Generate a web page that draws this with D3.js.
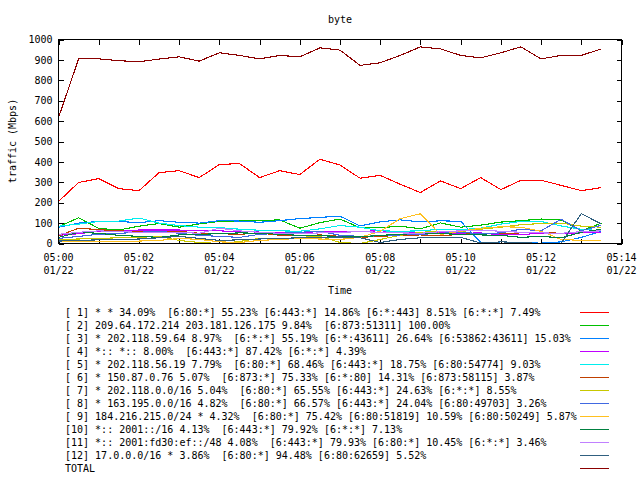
<!DOCTYPE html>
<html><head><meta charset="utf-8">
<script src="https://cdn.jsdelivr.net/npm/d3@7/dist/d3.min.js"></script>
<style>
body{margin:0;background:#fff}
svg text{font-family:"DejaVu Sans Mono","Liberation Mono",monospace;font-size:10px;fill:#000}
</style></head><body>
<svg id="c" width="640" height="480"></svg>
<script>
// ---- data ----
const times = ["05:00:00","05:00:30","05:01:00","05:01:30","05:02:00","05:02:30","05:03:00","05:03:30",
  "05:04:00","05:04:30","05:05:00","05:05:30","05:06:00","05:06:30","05:07:00","05:07:30",
  "05:08:00","05:08:30","05:09:00","05:09:30","05:10:00","05:10:30","05:11:00","05:11:30",
  "05:12:00","05:12:30","05:13:00","05:13:30"];

const s1  = [206,299,318,269,259,347,357,323,387,392,323,357,338,413,385,320,334,290,250,307,269,323,264,310,310,285,259,274];
const s2  = [82,126,74,66,85,98,80,96,108,110,112,116,75,102,120,77,77,85,72,101,80,90,105,112,120,115,62,100];
const s3  = [80,100,108,108,102,112,104,100,112,110,104,112,122,128,134,86,106,116,106,111,109,5,2,3,2,8,30,60];
const s4  = [40,48,60,64,66,66,66,64,62,58,56,52,54,58,60,60,62,58,54,52,50,52,42,44,50,48,52,56];
const s5  = [85,95,108,110,125,100,88,80,78,70,65,62,60,72,88,80,62,60,62,70,68,75,95,108,108,86,70,62];
const s6  = [38,75,68,62,58,55,60,50,48,45,52,40,38,42,35,30,35,40,42,38,45,50,48,52,55,50,58,62];
const s7  = [20,22,25,28,30,35,15,5,0,10,25,20,30,35,5,0,20,40,55,60,58,70,80,92,98,100,85,80];
const s8  = [25,35,45,50,55,60,50,40,35,30,45,50,55,60,40,35,38,42,45,50,55,48,52,70,62,119,62,90];
const s9  = [10,12,12,12,12,15,25,20,8,5,15,20,25,22,20,30,60,122,146,44,60,75,82,80,60,20,15,15];
const s10 = [30,55,50,40,35,30,42,45,48,52,50,45,40,38,35,32,40,45,50,48,45,42,40,30,35,28,55,70];
const s11 = [45,55,62,58,55,52,55,50,75,62,55,50,48,52,55,58,55,52,50,58,62,65,60,55,52,50,58,62];
const s12 = [12,15,18,20,22,28,35,25,15,18,22,25,28,30,32,28,5,20,28,30,30,2,8,5,0,2,147,95];
const total = [617,905,905,896,891,904,915,894,935,922,905,922,915,959,948,873,886,922,964,954,922,910,935,964,905,922,922,954];

const seriesValues = [s1,s2,s3,s4,s5,s6,s7,s8,s9,s10,s11,s12,total];
const seriesLabels = [
  "[ 1] * * 34.09%  [6:80:*] 55.23% [6:443:*] 14.86% [6:*:443] 8.51% [6:*:*] 7.49%",
  "[ 2] 209.64.172.214 203.181.126.175 9.84%  [6:873:51311] 100.00%",
  "[ 3] * 202.118.59.64 8.97%  [6:*:*] 55.19% [6:*:43611] 26.64% [6:53862:43611] 15.03%",
  "[ 4] *:: *:: 8.00%  [6:443:*] 87.42% [6:*:*] 4.39%",
  "[ 5] * 202.118.56.19 7.79%  [6:80:*] 68.46% [6:443:*] 18.75% [6:80:54774] 9.03%",
  "[ 6] * 150.87.0.76 5.07%  [6:873:*] 75.33% [6:*:80] 14.31% [6:873:58115] 3.87%",
  "[ 7] * 202.118.0.0/16 5.04%  [6:80:*] 65.55% [6:443:*] 24.63% [6:*:*] 8.55%",
  "[ 8] * 163.195.0.0/16 4.82%  [6:80:*] 66.57% [6:443:*] 24.04% [6:80:49703] 3.26%",
  "[ 9] 184.216.215.0/24 * 4.32%  [6:80:*] 75.42% [6:80:51819] 10.59% [6:80:50249] 5.87%",
  "[10] *:: 2001::/16 4.13%  [6:443:*] 79.92% [6:*:*] 7.13%",
  "[11] *:: 2001:fd30:ef::/48 4.08%  [6:443:*] 79.93% [6:80:*] 10.45% [6:*:*] 3.46%",
  "[12] 17.0.0.0/16 * 3.86%  [6:80:*] 94.48% [6:80:62659] 5.52%",
  "TOTAL"
];
const seriesColors = ["#ff0000","#00c000","#0080ff","#c000ff","#00eeee","#c04000","#c8c800",
  "#4169e1","#ffc020","#008040","#c080ff","#306080","#8b0000"];

const yTicks = [0,100,200,300,400,500,600,700,800,900,1000];
const xTicks = ["05:00","05:01","05:02","05:03","05:04","05:05","05:06","05:07","05:08","05:09","05:10","05:11","05:12","05:13","05:14"];
const xLabelTicks = ["05:00","05:02","05:04","05:06","05:08","05:10","05:12","05:14"];
const xDateLabel = "01/22";
const titleText = "byte", xTitle = "Time", yTitle = "traffic (Mbps)";

// ---- chart ----
const svg = d3.select("#c");
const L = 58.5, R = 621.5, T = 39.5, B = 243.5;
const parseT = d3.timeParse("%H:%M:%S");
const parseM = d3.timeParse("%H:%M");
const x = d3.scaleTime().domain([parseM(xTicks[0]), parseM(xTicks[xTicks.length-1])]).range([L, R]);
const y = d3.scaleLinear().domain([0, 1000]).range([B, T]);

svg.append("text").attr("x", 340).attr("y", 23).attr("text-anchor", "middle").text(titleText);
svg.append("text").attr("transform", "translate(16,141) rotate(-90)").attr("text-anchor", "middle").text(yTitle);
svg.append("text").attr("x", 340).attr("y", 294).attr("text-anchor", "middle").text(xTitle);

const tickStyle = g => { g.select(".domain").remove(); g.selectAll("line").attr("stroke", "#000").attr("shape-rendering", "crispEdges"); };

svg.append("g").attr("transform", `translate(${L},0)`)
  .call(d3.axisLeft(y).tickValues(yTicks).tickSize(-5).tickPadding(6).tickFormat(d3.format("d")))
  .call(tickStyle)
  .selectAll("text").style("font-family", "DejaVu Sans Mono").style("font-size", "10px").attr("fill", "#000");
svg.append("g").attr("transform", `translate(${R},0)`)
  .call(d3.axisRight(y).tickValues(yTicks).tickSize(-5).tickFormat(""))
  .call(tickStyle);

const xtv = xTicks.map(parseM);
svg.append("g").attr("transform", `translate(0,${B})`)
  .call(d3.axisBottom(x).tickValues(xtv).tickSize(-5).tickFormat(""))
  .call(tickStyle);
svg.append("g").attr("transform", `translate(0,${T})`)
  .call(d3.axisTop(x).tickValues(xtv).tickSize(-5).tickFormat(""))
  .call(tickStyle);

const lab = svg.append("g");
xLabelTicks.forEach(t => {
  const px = x(parseM(t));
  const tx = lab.append("text").attr("x", px).attr("text-anchor", "middle");
  tx.append("tspan").attr("x", px).attr("y", 261).text(t);
  tx.append("tspan").attr("x", px).attr("y", 274).text(xDateLabel);
});

const line = d3.line().x((d, i) => x(parseT(times[i]))).y(d => y(d));
const plot = svg.append("g");
seriesValues.forEach((vals, k) => {
  plot.append("path").attr("d", line(vals)).attr("fill", "none")
    .attr("stroke", seriesColors[k]).attr("stroke-width", 1.1)
    .attr("shape-rendering", "crispEdges");
});

svg.append("rect").attr("x", L).attr("y", T).attr("width", R - L).attr("height", B - T)
  .attr("fill", "none").attr("stroke", "#000").attr("shape-rendering", "crispEdges");

const leg = svg.append("g");
seriesLabels.forEach((s, k) => {
  const cy = 312.5 + 13 * k;
  leg.append("text").attr("x", 65).attr("y", cy + 3.5).attr("xml:space", "preserve")
    .style("white-space", "pre").text(s);
  leg.append("line").attr("x1", 580).attr("x2", 609).attr("y1", cy).attr("y2", cy)
    .attr("stroke", seriesColors[k]).attr("stroke-width", 1).attr("shape-rendering", "crispEdges");
});
</script>
</body></html>
